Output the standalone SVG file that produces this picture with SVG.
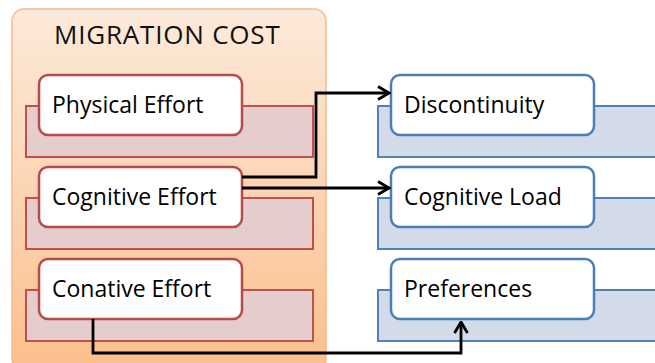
<svg xmlns="http://www.w3.org/2000/svg" width="655" height="363" viewBox="0 0 655 363">
  <defs>
    <linearGradient id="panelFill" x1="0" y1="0" x2="0" y2="1">
      <stop offset="0" stop-color="#fdeadb"/>
      <stop offset="1" stop-color="#fbbf8c"/>
    </linearGradient>
    <marker id="arrowOpen" viewBox="0 0 14 16" refX="12.5" refY="8" markerWidth="14" markerHeight="16" markerUnits="userSpaceOnUse" orient="auto">
      <path d="M1.5,1.5 L12.5,8 L1.5,14.5" fill="none" stroke="#000" stroke-width="2.8"/>
    </marker>
    <style>
      .label { font-family: "Open Sans", Lato, "Liberation Sans", sans-serif; font-size: 23px; fill: #000; }
      .title { font-family: "Open Sans", Lato, "Liberation Sans", sans-serif; font-size: 26px; letter-spacing: 0.8px; fill: #111; }
      .barRed { fill: #e5cdcd; stroke: #c0504d; stroke-width: 2; }
      .boxRed { fill: #fff; stroke: #b84a47; stroke-width: 2.5; }
      .barBlue { fill: #d3dbe9; stroke: #4f81bd; stroke-width: 2; }
      .boxBlue { fill: #fff; stroke: #4a7ebb; stroke-width: 2.5; }
      .conn { fill: none; stroke: #000; stroke-width: 2.8; }
    </style>
  </defs>

  <g id="migration-cost">
    <rect x="12" y="9" width="314" height="362" rx="12" fill="url(#panelFill)" stroke="#f8b98a" stroke-width="1.5"/>
    <text class="title" x="54" y="44">MIGRATION COST</text>
  </g>

  <g id="physical-effort">
    <rect class="barRed" x="26" y="106" width="287" height="51"/>
    <rect class="boxRed" x="39" y="75" width="203" height="60" rx="9"/>
    <text class="label" x="52" y="113">Physical Effort</text>
  </g>

  <g id="cognitive-effort">
    <rect class="barRed" x="26" y="198" width="287" height="51"/>
    <rect class="boxRed" x="39" y="167" width="203" height="60" rx="9"/>
    <text class="label" x="52" y="205">Cognitive Effort</text>
  </g>

  <g id="conative-effort">
    <rect class="barRed" x="26" y="290" width="287" height="51"/>
    <rect class="boxRed" x="39" y="259" width="203" height="60" rx="9"/>
    <text class="label" x="52" y="297">Conative Effort</text>
  </g>

  <g id="discontinuity">
    <rect class="barBlue" x="378" y="106" width="290" height="51"/>
    <rect class="boxBlue" x="391" y="75" width="203" height="60" rx="9"/>
    <text class="label" x="404" y="113">Discontinuity</text>
  </g>

  <g id="cognitive-load">
    <rect class="barBlue" x="378" y="198" width="290" height="51"/>
    <rect class="boxBlue" x="391" y="167" width="203" height="60" rx="9"/>
    <text class="label" x="404" y="205">Cognitive Load</text>
  </g>

  <g id="preferences">
    <rect class="barBlue" x="378" y="290" width="290" height="51"/>
    <rect class="boxBlue" x="391" y="259" width="203" height="60" rx="9"/>
    <text class="label" x="404" y="297">Preferences</text>
  </g>

  <g id="connectors">
    <path class="conn" d="M242,177 H316 V93 H389" marker-end="url(#arrowOpen)"/>
    <path class="conn" d="M242,188 H389" marker-end="url(#arrowOpen)"/>
    <path class="conn" d="M93,319 V353 H461 V322" marker-end="url(#arrowOpen)"/>
  </g>
</svg>
